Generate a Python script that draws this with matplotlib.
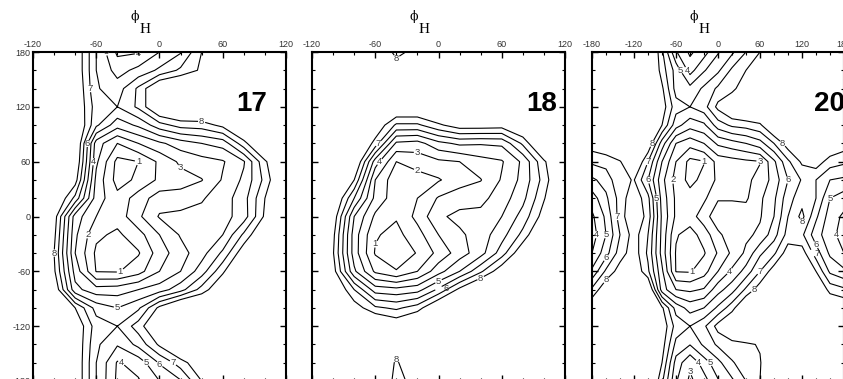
import numpy as np
import matplotlib
matplotlib.use("Agg")
import matplotlib.pyplot as plt
from matplotlib.ticker import MultipleLocator

plt.rcParams["font.family"] = ["Liberation Sans", "DejaVu Sans"]
plt.rcParams["axes.unicode_minus"] = False

# grid of the maps: psi rows from +180 down to -180, phi columns
psi = np.arange(180, -181, -20)
phi_narrow = np.arange(-120, 121, 20)
phi_wide = np.arange(-180, 181, 20)

levels = [1, 2, 3, 4, 5, 6, 7, 8]
panel_names = ["17", "18", "20"]

# free energy maps, one row per psi value
energy_17 = [
    [10, 10, 9.0, 6.0, 3.8, 3.9, 5.0, 5.9, 8.0, 9.5, 10, 10, 10],
    [10, 10, 9.0, 6.0, 4.6, 5.3, 6.2, 7.2, 8.2, 10, 10, 10, 10],
    [10, 10, 9.2, 6.1, 5.5, 7.2, 9.5, 10, 10, 10, 10, 10, 10],
    [10, 10, 9.2, 6.5, 6.0, 7.2, 9.5, 10, 10, 10, 10, 10, 10],
    [10, 10, 9.5, 6.2, 4.4, 5.2, 6.6, 7.4, 7.5, 8.3, 10, 10, 10],
    [10, 10, 9.5, 3.5, 2.0, 3.0, 3.8, 4.5, 5.0, 5.4, 7.6, 10, 10],
    [10, 10, 9.2, 3.2, 0.7, 1.0, 2.2, 3.2, 3.6, 3.9, 4.9, 7.8, 10],
    [10, 10, 8.5, 2.7, 0.6, 1.2, 2.2, 2.6, 2.95, 4.1, 5.2, 7.3, 10],
    [10, 9.5, 6.7, 2.5, 1.3, 2.5, 3.5, 3.4, 3.9, 4.5, 5.6, 8.0, 10],
    [10, 8.6, 3.5, 2.0, 1.4, 2.8, 4.1, 4.3, 4.3, 4.6, 5.5, 8.2, 10],
    [10, 8.3, 3.2, 1.2, 0.8, 1.6, 3.0, 4.1, 4.5, 5.0, 7.2, 9.5, 10],
    [10, 8.0, 3.0, 0.8, 0.5, 0.9, 2.5, 3.6, 4.6, 6.2, 8.8, 10, 10],
    [10, 8.2, 3.6, 0.95, 0.9, 1.6, 3.0, 4.0, 5.5, 7.8, 10, 10, 10],
    [10, 9.0, 4.3, 3.4, 3.5, 4.0, 4.5, 5.6, 7.4, 9.2, 10, 10, 10],
    [10, 10, 8.0, 5.6, 5.0, 5.8, 8.3, 10, 10, 10, 10, 10, 10],
    [10, 10, 9.0, 6.5, 6.0, 7.5, 9.5, 10, 10, 10, 10, 10, 10],
    [10, 10, 9.0, 6.2, 5.1, 6.3, 8.2, 10, 10, 10, 10, 10, 10],
    [10, 10, 9.0, 6.0, 3.9, 4.4, 6.1, 7.5, 9.0, 10, 10, 10, 10],
    [10, 10, 9.0, 6.0, 3.8, 3.9, 5.0, 5.9, 8.0, 9.5, 10, 10, 10],
]

energy_18 = [
    [10, 10, 10, 9.5, 7.6, 8.5, 10, 10, 10, 10, 10, 10, 10],
    [10, 10, 10, 10, 8.8, 10, 10, 10, 10, 10, 10, 10, 10],
    [10, 10, 10, 10, 10, 10, 10, 10, 10, 10, 10, 10, 10],
    [10, 10, 10, 10, 9.5, 9.5, 10, 10, 10, 10, 10, 10, 10],
    [10, 10, 10, 9.0, 6.8, 6.8, 7.8, 8.6, 8.6, 8.5, 9.5, 10, 10],
    [10, 10, 10, 7.6, 3.8, 3.6, 4.7, 5.2, 5.1, 5.2, 7.2, 10, 10],
    [10, 10, 9.5, 4.5, 2.0, 2.4, 2.8, 3.0, 3.6, 3.9, 5.2, 7.8, 10],
    [10, 10, 8.0, 3.0, 1.3, 1.6, 1.9, 2.6, 2.95, 4.1, 5.3, 7.4, 10],
    [10, 9.5, 6.0, 2.7, 1.4, 2.0, 3.1, 3.5, 3.7, 4.5, 5.7, 7.9, 10],
    [10, 8.8, 4.0, 1.8, 1.1, 2.3, 3.8, 4.3, 4.3, 5.0, 6.4, 8.5, 10],
    [10, 8.3, 3.5, 1.1, 0.7, 1.6, 3.0, 3.8, 4.5, 5.6, 7.3, 9.8, 10],
    [10, 8.1, 3.5, 0.9, 0.5, 1.05, 2.3, 3.5, 4.6, 6.5, 9.0, 10, 10],
    [10, 8.5, 4.2, 1.8, 1.05, 2.0, 3.6, 5.0, 6.8, 8.8, 10, 10, 10],
    [10, 9.5, 7.0, 4.5, 4.3, 4.6, 6.2, 8.3, 10, 10, 10, 10, 10],
    [10, 10, 8.6, 7.2, 6.8, 7.5, 9.5, 10, 10, 10, 10, 10, 10],
    [10, 10, 10, 9.8, 9.0, 10, 10, 10, 10, 10, 10, 10, 10],
    [10, 10, 10, 10, 8.8, 10, 10, 10, 10, 10, 10, 10, 10],
    [10, 10, 10, 9.8, 7.8, 9.5, 10, 10, 10, 10, 10, 10, 10],
    [10, 10, 10, 9.5, 7.6, 8.5, 10, 10, 10, 10, 10, 10, 10],
]

energy_20 = [
    [10, 10, 10, 10, 10, 7.2, 4.1, 2.8, 3.6, 4.9, 5.8, 7.0, 8.0, 9.5, 10, 10, 10, 10, 10],
    [10, 10, 10, 10, 10, 7.5, 5.6, 3.6, 4.9, 5.8, 7.2, 8.0, 9.5, 10, 10, 10, 10, 10, 10],
    [10, 10, 10, 10, 10, 8.2, 5.6, 5.3, 6.2, 7.2, 7.6, 9.0, 10, 10, 10, 10, 10, 10, 10],
    [10, 10, 10, 10, 10, 8.6, 6.4, 6.0, 6.6, 8.3, 9.5, 10, 10, 10, 10, 10, 10, 10, 10],
    [10, 10, 10, 10, 9.8, 8.0, 5.4, 4.4, 4.8, 6.5, 7.2, 7.4, 7.8, 9.5, 10, 10, 10, 10, 10],
    [8.6, 9.0, 10, 10, 9.0, 5.5, 3.0, 2.4, 3.0, 4.2, 4.6, 5.0, 5.6, 7.0, 8.6, 10, 10, 9.2, 8.6],
    [7.2, 7.4, 7.9, 9.5, 7.0, 4.0, 2.0, 0.7, 0.95, 2.4, 2.6, 2.8, 2.95, 4.8, 6.8, 8.2, 8.6, 7.5, 7.2],
    [5.8, 6.4, 7.8, 8.05, 6.0, 3.3, 1.6, 0.7, 1.3, 2.2, 2.5, 2.8, 3.3, 4.4, 6.0, 7.1, 7.0, 6.0, 5.8],
    [4.5, 5.8, 7.4, 8.8, 7.3, 3.6, 1.8, 1.4, 1.8, 2.9, 2.9, 2.85, 3.8, 4.8, 6.6, 7.6, 7.0, 5.0, 4.5],
    [3.8, 5.2, 7.5, 9.0, 7.6, 3.8, 1.8, 1.5, 2.6, 3.6, 3.6, 3.5, 3.9, 5.0, 7.0, 8.3, 6.2, 4.5, 3.8],
    [3.5, 5.0, 7.0, 8.5, 7.0, 3.7, 1.1, 0.6, 1.4, 2.8, 3.5, 3.8, 4.2, 5.6, 7.4, 7.2, 5.4, 4.4, 3.5],
    [4.0, 5.6, 7.5, 8.6, 6.8, 3.6, 0.9, 0.5, 0.9, 2.1, 3.2, 4.2, 5.8, 6.8, 8.6, 8.5, 6.5, 4.8, 4.0],
    [5.2, 7.2, 8.5, 9.0, 7.2, 4.2, 0.95, 0.9, 1.6, 3.0, 4.2, 5.4, 7.0, 8.6, 10, 10, 8.0, 5.8, 5.2],
    [7.2, 8.9, 10, 10, 9.5, 4.5, 3.0, 2.8, 3.1, 4.6, 5.6, 7.2, 8.6, 10, 10, 10, 9.5, 7.6, 7.2],
    [9.0, 10, 10, 10, 10, 8.2, 5.6, 4.6, 5.0, 6.2, 7.6, 9.5, 10, 10, 10, 10, 10, 9.4, 9.0],
    [10, 10, 10, 10, 10, 8.8, 6.6, 6.0, 6.8, 8.4, 9.5, 10, 10, 10, 10, 10, 10, 10, 10],
    [10, 10, 10, 10, 10, 8.5, 5.7, 5.05, 6.2, 7.2, 7.6, 7.8, 8.1, 10, 10, 10, 10, 10, 10],
    [10, 10, 10, 10, 10, 8.0, 4.6, 3.2, 4.5, 5.7, 6.9, 7.5, 7.9, 9.5, 10, 10, 10, 10, 10],
    [10, 10, 10, 10, 10, 7.2, 4.1, 2.8, 3.6, 4.9, 5.8, 7.0, 8.0, 9.5, 10, 10, 10, 10, 10],
]

W, H = 843, 379
fig = plt.figure(figsize=(W / 100, H / 100), dpi=100)

# (left edge px, width px) of each map
boxes = [(33, 253), (312, 253), (592, 252)]
maps = [(phi_narrow, energy_17), (phi_narrow, energy_18), (phi_wide, energy_20)]
name_x = [0.866, 0.909, 0.944]

renderer = fig.canvas.get_renderer()

for i, ((left, width), (phi, energy)) in enumerate(zip(boxes, maps)):
    ax = fig.add_axes([left / W, -2 / H, width / W, 329 / H])
    Z = np.array(energy)
    cs = ax.contour(phi, psi, Z, levels=levels, colors="black", linewidths=0.8)
    labels = ax.clabel(cs, fmt="%d", fontsize=6.8, inline=True,
                       inline_spacing=1, colors="#3a3a3a")
    for t in labels:
        t.set_rotation(0)

    # nudge labels of neighbouring lines apart when they collide
    placed = []
    for t in labels:
        bb = t.get_window_extent(renderer)
        for other in placed:
            if bb.overlaps(other):
                x, y = t.get_position()
                t.set_position((x + 7, y))
                bb = t.get_window_extent(renderer)
        placed.append(bb)

    ax.set_xlim(phi[0], phi[-1])
    ax.set_ylim(-180, 180)
    ax.xaxis.set_major_locator(MultipleLocator(60))
    ax.xaxis.set_minor_locator(MultipleLocator(20))
    ax.yaxis.set_major_locator(MultipleLocator(60))
    ax.yaxis.set_minor_locator(MultipleLocator(20))
    ax.tick_params(which="both", direction="in", top=True, bottom=True,
                   left=True, right=True, labeltop=True, labelbottom=False,
                   labelleft=(i == 0), labelright=False,
                   labelsize=6.5, labelcolor="#333333", pad=2)
    ax.tick_params(which="major", length=4, width=1)
    ax.tick_params(which="minor", length=2.5, width=0.8)
    for s in ax.spines.values():
        s.set_linewidth(1.5)

    ax.text(name_x[i], 0.842, panel_names[i], transform=ax.transAxes,
            fontsize=20, fontweight="bold", ha="center", va="center")

    centre = left + width / 2
    fig.text((centre - 24.5) / W, 1 - 16.7 / H, "ϕ", family="DejaVu Serif",
             fontsize=9, ha="center", va="center")
    fig.text((centre - 14) / W, 1 - 29.3 / H, "H", family="Liberation Serif",
             fontsize=11, ha="center", va="center")

fig.savefig("out.png", dpi=100)
